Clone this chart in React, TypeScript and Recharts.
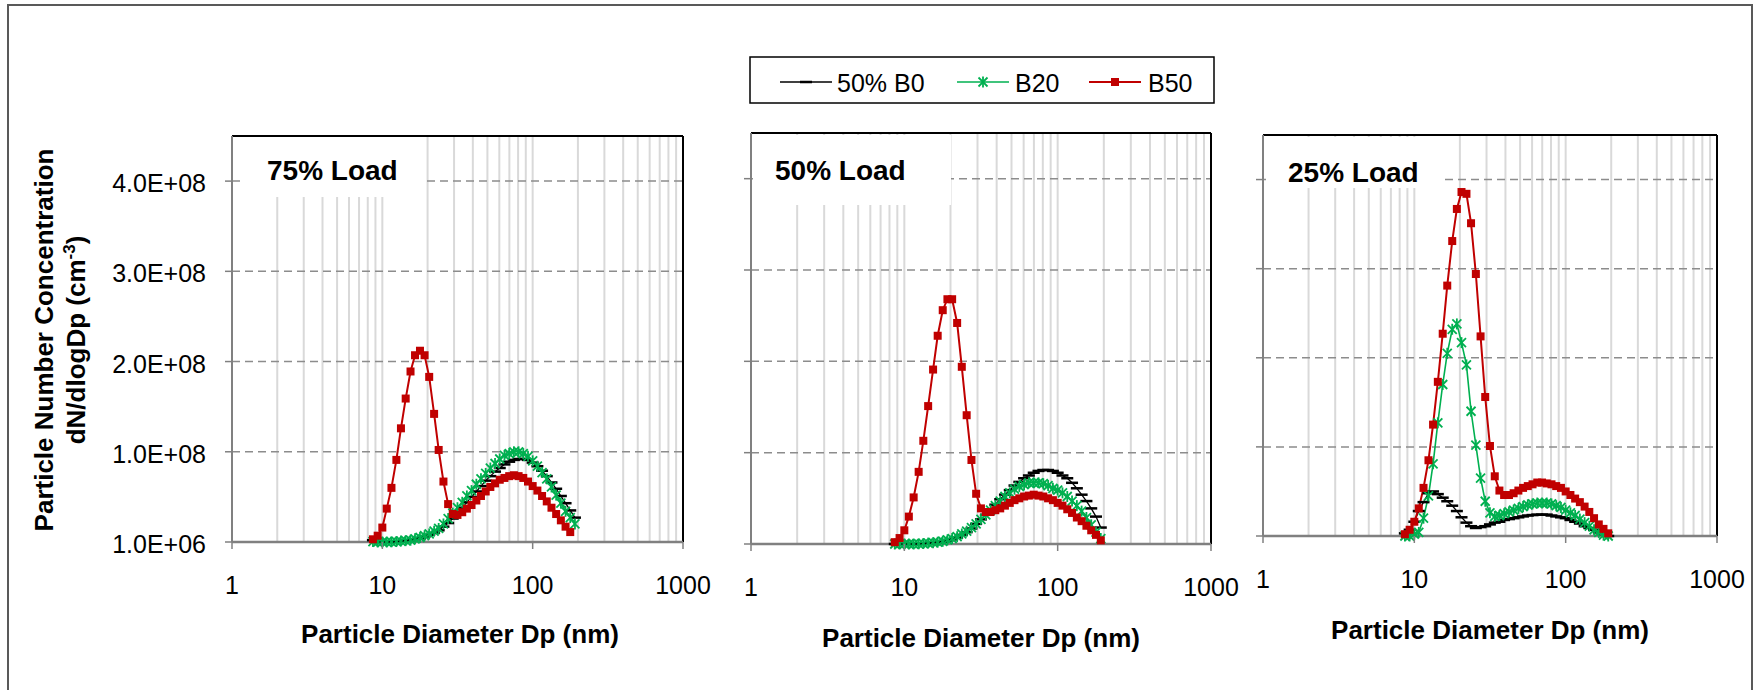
import React from 'react';
import { LineChart, Line, XAxis, YAxis, CartesianGrid, ReferenceLine } from 'recharts';

// Mobility diameter bins (nm), 32 channels per decade
const DIAMETERS = [
  8.66, 9.31, 10.0, 10.7, 11.5, 12.4, 13.3, 14.3, 15.4, 16.5, 17.8, 19.1, 20.5, 22.1, 23.7,
  25.5, 27.4, 29.4, 31.6, 34.0, 36.5, 39.2, 42.2, 45.3, 48.7, 52.3, 56.2, 60.4, 64.9, 69.8,
  75.0, 80.6, 86.6, 93.1, 100, 107.5, 115.5, 124.1, 133.4, 143.3, 154.0, 165.5, 177.8, 191.1,
];

// dN/dlogDp in units of 1E+08 cm^-3
const LOAD75_B0 = [
  0.03, 0.015, 0.01, 0.01, 0.012, 0.015, 0.02, 0.025, 0.03, 0.04, 0.05, 0.07, 0.09, 0.11, 0.14,
  0.18, 0.22, 0.27, 0.33, 0.39, 0.45, 0.51, 0.57, 0.63, 0.69, 0.74, 0.79, 0.83, 0.87, 0.9,
  0.92, 0.93, 0.93, 0.92, 0.89, 0.85, 0.8, 0.74, 0.67, 0.6, 0.52, 0.44, 0.36, 0.28,
];
const LOAD75_B20 = [
  0.015, 0.01, 0.01, 0.01, 0.012, 0.015, 0.02, 0.025, 0.03, 0.045, 0.06, 0.08, 0.1, 0.13, 0.16,
  0.21, 0.27, 0.33, 0.39, 0.45, 0.52, 0.58, 0.65, 0.71, 0.77, 0.83, 0.88, 0.93, 0.97, 0.99,
  1.01, 1.01, 0.99, 0.96, 0.91, 0.85, 0.78, 0.71, 0.62, 0.53, 0.44, 0.35, 0.28, 0.21,
];
const LOAD75_B50 = [
  0.04, 0.08, 0.17, 0.38, 0.61, 0.92, 1.27, 1.6, 1.9, 2.08, 2.13, 2.08, 1.84, 1.43, 1.03,
  0.68, 0.43, 0.32, 0.31, 0.34, 0.38, 0.42, 0.47, 0.52, 0.57, 0.62, 0.66, 0.7, 0.72, 0.74,
  0.75, 0.74, 0.72, 0.68, 0.63, 0.58, 0.52, 0.46, 0.39, 0.32, 0.25, 0.18, 0.12,
];

const LOAD50_B0 = [
  0.01, 0.01, 0.01, 0.01, 0.01, 0.012, 0.015, 0.018, 0.022, 0.028, 0.035, 0.045, 0.06, 0.08, 0.11,
  0.14, 0.18, 0.23, 0.28, 0.33, 0.38, 0.44, 0.5, 0.55, 0.6, 0.65, 0.69, 0.73, 0.76, 0.79,
  0.81, 0.82, 0.82, 0.81, 0.79, 0.76, 0.73, 0.68, 0.62, 0.55, 0.48, 0.4, 0.31, 0.19,
];
const LOAD50_B20 = [
  0.01, 0.01, 0.01, 0.01, 0.01, 0.012, 0.015, 0.02, 0.025, 0.03, 0.04, 0.055, 0.07, 0.09, 0.12,
  0.15, 0.19, 0.23, 0.28, 0.33, 0.38, 0.43, 0.48, 0.53, 0.57, 0.61, 0.64, 0.66, 0.68, 0.68,
  0.68, 0.67, 0.65, 0.62, 0.6, 0.57, 0.53, 0.48, 0.43, 0.37, 0.3, 0.22, 0.14, 0.07,
];
const LOAD50_B50 = [
  0.03, 0.075, 0.16, 0.31, 0.52, 0.8, 1.14, 1.52, 1.92, 2.29, 2.57, 2.69, 2.69, 2.43, 1.95,
  1.42, 0.93, 0.56, 0.4, 0.36, 0.36, 0.38, 0.4, 0.43, 0.46, 0.49, 0.51, 0.53, 0.54, 0.55,
  0.54, 0.53, 0.51, 0.49, 0.46, 0.43, 0.39, 0.35, 0.3, 0.26, 0.21, 0.16, 0.11, 0.05,
];

const LOAD25_B0 = [
  0.04, 0.08, 0.17, 0.29, 0.39, 0.49, 0.51, 0.48, 0.44, 0.4, 0.35, 0.29, 0.22, 0.16, 0.12,
  0.1, 0.11, 0.12, 0.14, 0.16, 0.17, 0.19, 0.2, 0.21, 0.22, 0.23, 0.24, 0.245, 0.25, 0.25,
  0.25, 0.24, 0.23, 0.22, 0.21, 0.19, 0.17, 0.15, 0.12, 0.1, 0.08, 0.05, 0.03, 0.01,
];
const LOAD25_B20 = [
  0.01, 0.01, 0.03, 0.05, 0.21, 0.46, 0.82, 1.28, 1.71, 2.06, 2.33, 2.39, 2.18, 1.93, 1.41,
  1.03, 0.66, 0.4, 0.27, 0.23, 0.24, 0.26, 0.28, 0.3, 0.32, 0.34, 0.36, 0.37, 0.38, 0.38,
  0.38, 0.37, 0.35, 0.33, 0.3, 0.27, 0.24, 0.2, 0.16, 0.12, 0.08, 0.05, 0.02, 0.01,
];
const LOAD25_B50 = [
  0.03, 0.08, 0.17, 0.32, 0.55, 0.86, 1.26, 1.74, 2.28, 2.82, 3.32, 3.68, 3.87, 3.85, 3.52,
  2.95, 2.25, 1.57, 1.02, 0.68, 0.52, 0.47, 0.47, 0.49, 0.52, 0.55, 0.57, 0.59, 0.61, 0.61,
  0.6, 0.59, 0.57, 0.55, 0.51, 0.47, 0.43, 0.39, 0.34, 0.28, 0.21, 0.14, 0.09, 0.04,
];

const PANEL_TITLES = ['75% Load', '50% Load', '25% Load'];
const SERIES_NAMES = ['50% B0', 'B20', 'B50'];

// Log-axis gridline positions and the decade labels
const X_GRID = [
  1, 2, 3, 4, 5, 6, 7, 8, 9, 10, 20, 30, 40, 50, 60, 70, 80, 90,
  100, 200, 300, 400, 500, 600, 700, 800, 900, 1000,
];
const X_MAJOR = [1, 10, 100, 1000];
const X_LABELS = ['1', '10', '100', '1000'];

const Y_MIN = 0.01;
const Y_MAX = 4.51;
const Y_TICKS = [0.01, 1.01, 2.01, 3.01, 4.01];
const Y_LABELS = ['1.0E+06', '1.0E+08', '2.0E+08', '3.0E+08', '4.0E+08'];

const FONT = '"Liberation Sans", Arial, Helvetica, sans-serif';
const COLORS = ['#000000', '#00B050', '#C00000'];

const buildRows = (b0: number[], b20: number[], b50: number[]) =>
  DIAMETERS.map((dp, i) => ({ dp, b0: b0[i], b20: b20[i], b50: b50[i] }));

const PANEL_ROWS = [
  buildRows(LOAD75_B0, LOAD75_B20, LOAD75_B50),
  buildRows(LOAD50_B0, LOAD50_B20, LOAD50_B50),
  buildRows(LOAD25_B0, LOAD25_B20, LOAD25_B50),
];

// Plot-area geometry of each panel (page pixels)
const LAYOUT = [
  { x: 232, y: 136, w: 451, h: 406, titleX: 460, titleBase: 643, box: [240, 137, 185, 60], labelX: 267, labelBase: 180 },
  { x: 751, y: 133, w: 460, h: 411, titleX: 981, titleBase: 647, box: [753, 135, 198, 70], labelX: 775, labelBase: 180 },
  { x: 1263, y: 135, w: 454, h: 401, titleX: 1490, titleBase: 639, box: [1266, 137, 175, 51], labelX: 1288, labelBase: 182 },
];

const XTick = (props: any) => {
  const { x, y, payload } = props;
  const idx = X_MAJOR.indexOf(payload.value);
  if (idx < 0) return <g />;
  return (
    <g>
      <line x1={x} x2={x} y1={y} y2={y + 7} stroke="#808080" strokeWidth={1.5} />
      <text x={x} y={y + 43} textAnchor="middle" dominantBaseline="central" fontSize={25} fontFamily={FONT} fill="#000">
        {X_LABELS[idx]}
      </text>
    </g>
  );
};

const makeYTick = (showLabels: boolean) => (props: any) => {
  const { x, y, payload } = props;
  const idx = Y_TICKS.indexOf(payload.value);
  return (
    <g>
      <line x1={x - 7} x2={x} y1={y} y2={y} stroke="#808080" strokeWidth={1.5} />
      {showLabels && idx >= 0 ? (
        <text x={x - 26} y={y + 2} textAnchor="end" dominantBaseline="central" fontSize={25} fontFamily={FONT} fill="#000">
          {Y_LABELS[idx]}
        </text>
      ) : null}
    </g>
  );
};

// Marker shapes
const dashMark = (cx: number, cy: number, key?: any) => (
  <line key={key} x1={cx - 6} x2={cx + 6} y1={cy} y2={cy} stroke={COLORS[0]} strokeWidth={2.5} />
);
const starMark = (cx: number, cy: number, key?: any) => (
  <g key={key} stroke={COLORS[1]} strokeWidth={1.8}>
    <line x1={cx - 4.5} y1={cy - 4.5} x2={cx + 4.5} y2={cy + 4.5} />
    <line x1={cx - 4.5} y1={cy + 4.5} x2={cx + 4.5} y2={cy - 4.5} />
    <line x1={cx} y1={cy - 5.5} x2={cx} y2={cy + 5.5} />
  </g>
);
const squareMark = (cx: number, cy: number, key?: any) => (
  <rect key={key} x={cx - 4} y={cy - 4} width={8} height={8} fill={COLORS[2]} />
);
const MARKS = [dashMark, starMark, squareMark];

const makeDot = (s: number) => (props: any) => {
  const { cx, cy, index } = props;
  if (cx == null || cy == null || Number.isNaN(cx) || Number.isNaN(cy)) return <g key={`e${index}`} />;
  return MARKS[s](cx, cy, `m${index}`);
};

const SERIES_KEYS = ['b0', 'b20', 'b50'];
const LINE_WIDTHS = [1.3, 1.6, 2];

function Panel({ idx }: { idx: number }) {
  const lay = LAYOUT[idx];
  const showY = idx === 0;
  const yw = showY ? 150 : 40;
  const top = 10;
  const right = 40;
  const xh = 70;
  return (
    <div style={{ position: 'absolute', left: lay.x - yw, top: lay.y - top }}>
      <LineChart
        width={lay.w + yw + right}
        height={lay.h + top + xh}
        data={PANEL_ROWS[idx]}
        margin={{ top, right, left: 0, bottom: 0 }}
      >
        <CartesianGrid horizontal={false} stroke="#d9d9d9" strokeWidth={2} />
        <CartesianGrid vertical={false} stroke="#8c8c8c" strokeWidth={1.5} strokeDasharray="8 5" />
        <XAxis
          dataKey="dp"
          type="number"
          scale="log"
          domain={[1, 1000]}
          ticks={X_GRID}
          interval={0}
          tick={XTick}
          tickLine={false}
          tickSize={0}
          tickMargin={0}
          height={xh}
          axisLine={{ stroke: '#808080', strokeWidth: 2.5 }}
        />
        <YAxis
          type="number"
          domain={[Y_MIN, Y_MAX]}
          ticks={Y_TICKS}
          interval={0}
          tick={makeYTick(showY)}
          tickLine={false}
          tickSize={0}
          tickMargin={0}
          width={yw}
          axisLine={{ stroke: '#808080', strokeWidth: 2 }}
        />
        <ReferenceLine y={Y_MAX} stroke="#000" strokeWidth={2} />
        <ReferenceLine x={1000} stroke="#000" strokeWidth={2} />
        {SERIES_KEYS.map((k, s) => (
          <Line
            key={k}
            dataKey={k}
            name={SERIES_NAMES[s]}
            type="linear"
            stroke={COLORS[s]}
            strokeWidth={LINE_WIDTHS[s]}
            dot={makeDot(s)}
            activeDot={false}
            isAnimationActive={false}
          />
        ))}
      </LineChart>
    </div>
  );
}

const LEGEND_ITEMS = [
  { lineX: 780, textX: 837 },
  { lineX: 957, textX: 1015 },
  { lineX: 1089, textX: 1148 },
];

export default function App() {
  return (
    <div style={{ position: 'absolute', left: 0, top: 0, width: 1758, height: 690, overflow: 'hidden', background: '#fff' }}>
      <div style={{ position: 'absolute', left: 7, top: 4, width: 1742, height: 720, border: '2px solid #595959' }} />
      {[0, 1, 2].map((i) => (
        <Panel key={i} idx={i} />
      ))}
      <svg width={1758} height={690} style={{ position: 'absolute', left: 0, top: 0, pointerEvents: 'none' }} fontFamily={FONT}>
        {/* panel captions on white boxes */}
        {LAYOUT.map((lay, i) => (
          <g key={i}>
            <rect x={lay.box[0]} y={lay.box[1]} width={lay.box[2]} height={lay.box[3]} fill="#fff" />
            <text x={lay.labelX} y={lay.labelBase} fontSize={28} fontWeight="bold" fill="#000">
              {PANEL_TITLES[i]}
            </text>
            <text x={lay.titleX} y={lay.titleBase} textAnchor="middle" fontSize={26} fontWeight="bold" fill="#000">
              Particle Diameter Dp (nm)
            </text>
          </g>
        ))}
        {/* y-axis title */}
        <text transform="translate(53,340) rotate(-90)" textAnchor="middle" fontSize={26} fontWeight="bold" fill="#000">
          Particle Number Concentration
        </text>
        <text transform="translate(85,340) rotate(-90)" textAnchor="middle" fontSize={26} fontWeight="bold" fill="#000">
          dN/dlogDp (cm<tspan fontSize={17} dy={-10}>-3</tspan><tspan dy={10}>)</tspan>
        </text>
        {/* legend */}
        <rect x={750} y={57} width={464} height={46} fill="#fff" stroke="#000" strokeWidth={1.5} />
        {LEGEND_ITEMS.map((it, s) => (
          <g key={s}>
            <line x1={it.lineX} x2={it.lineX + 52} y1={82} y2={82} stroke={COLORS[s]} strokeWidth={LINE_WIDTHS[s]} />
            {MARKS[s](it.lineX + 26, 82)}
            <text x={it.textX} y={92} fontSize={25} fill="#000">
              {SERIES_NAMES[s]}
            </text>
          </g>
        ))}
      </svg>
    </div>
  );
}
